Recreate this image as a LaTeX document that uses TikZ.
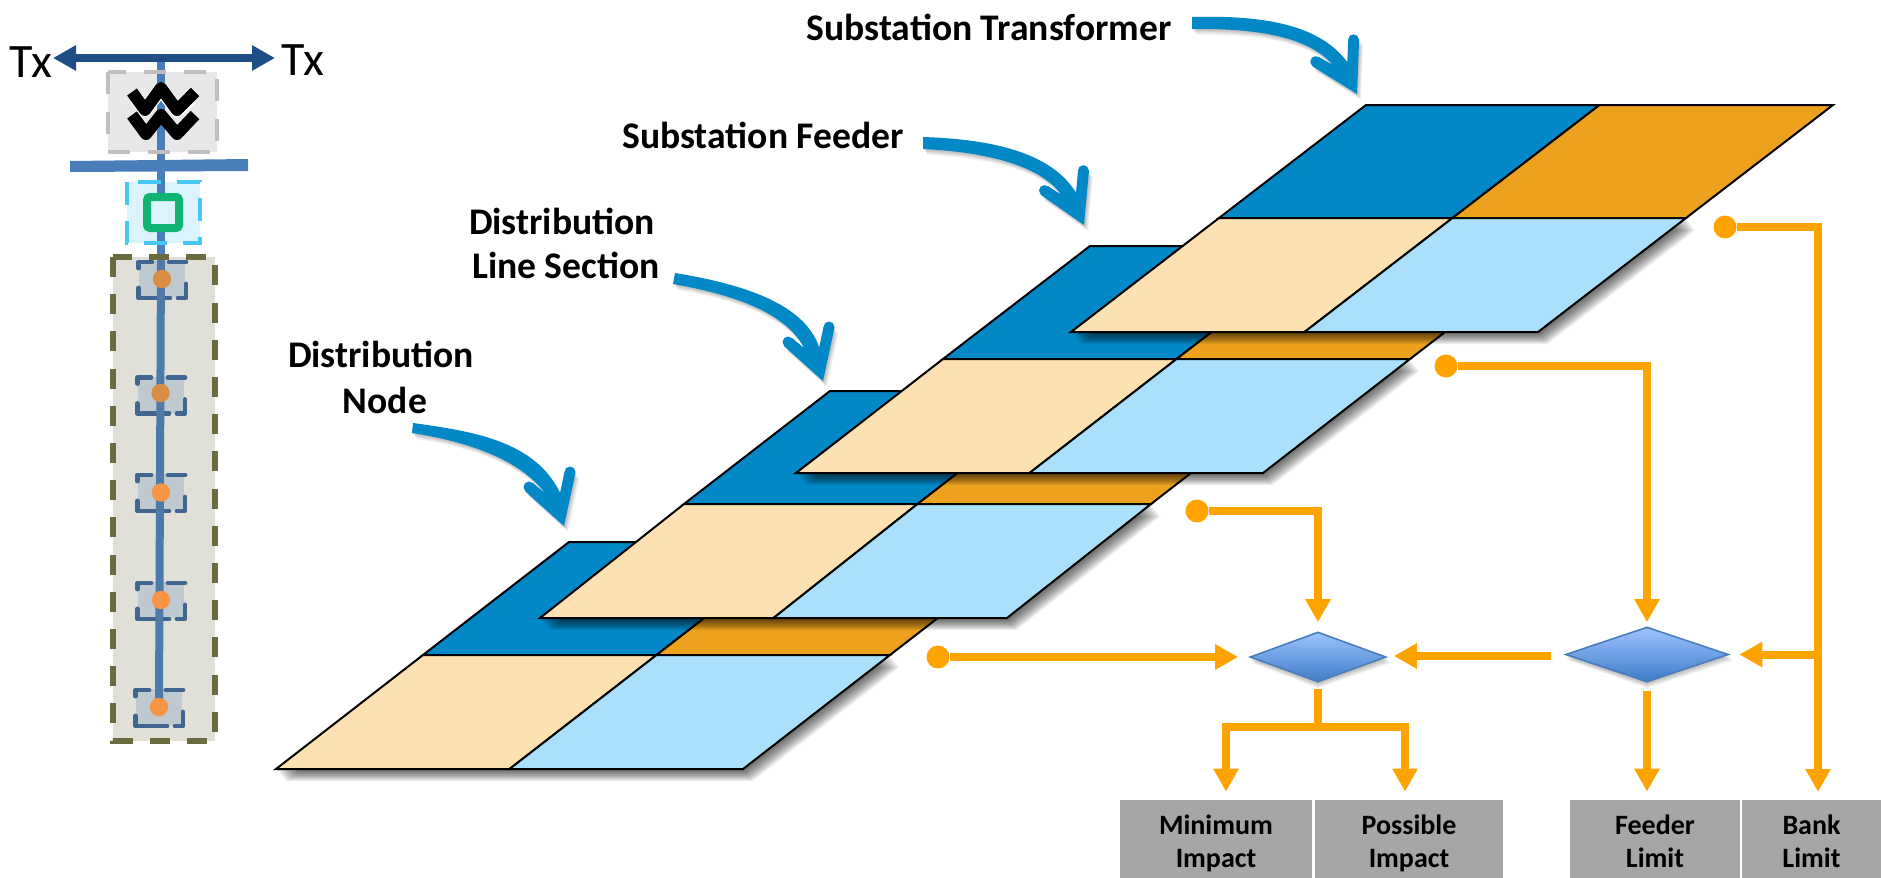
\documentclass[tikz,border=0pt]{standalone}
\usepackage{fontspec}
\setmainfont{Carlito}
\usetikzlibrary{arrows.meta,shapes.geometric,calc}
\definecolor{cblue}{HTML}{0288C7}
\definecolor{corange}{HTML}{EDA21F}
\definecolor{ccream}{HTML}{FDE1B2}
\definecolor{clight}{HTML}{ABE0FC}
\definecolor{flowc}{HTML}{FFA300}
\definecolor{navy}{HTML}{1F4E87}
\definecolor{feedc}{HTML}{4A7EBB}
\definecolor{feedd}{HTML}{4F7AA8}
\definecolor{olive}{HTML}{6B6B40}
\definecolor{slate}{HTML}{3F6590}
\definecolor{grayb}{HTML}{A6A6A6}
\definecolor{greybg}{HTML}{E8E8E8}
\definecolor{greyds}{HTML}{BFBFBF}
\definecolor{skybg}{HTML}{DBF3FC}
\definecolor{skyds}{HTML}{45C8F5}
\definecolor{sandbg}{HTML}{E0E0D8}
\definecolor{nodebg}{HTML}{BFCAD0}
\definecolor{greenc}{HTML}{10B573}
\definecolor{dotdk}{HTML}{D98E45}
\definecolor{dotlt}{HTML}{F79646}
\definecolor{dmdtop}{HTML}{9DC3FF}
\definecolor{dmdbot}{HTML}{3F7CC8}
\tikzset{
  x=0.5pt,y=-0.5pt,
  cell/.style={draw=black,line width=1pt,line join=miter},
  flow/.style={draw=flowc,line width=4pt},
  flowa/.style={flow,-{Triangle[length=11.5pt,width=12pt]}},
  tinydot/.style={circle,fill=flowc,minimum size=11.5pt,inner sep=0pt},
  dmd/.style={diamond,draw=feedc,line width=0.8pt,top color=dmdtop,bottom color=dmdbot,inner sep=0pt},
  graybox/.style={rectangle,fill=grayb,minimum height=39pt,inner sep=0pt,font=\fontsize{14}{16.5}\selectfont\bfseries},
  lbl/.style={font=\fontsize{18.8}{22}\selectfont\bfseries,inner sep=0pt,align=center},
  txl/.style={font=\fontsize{24}{26}\selectfont,inner sep=0pt},
  bracket/.style={draw=slate,line width=2.4pt,line cap=round,line join=round},
}
% layer: top-left x, top y, middle-row x offset, bottom-row x offset
\newcommand\layerdraw[4]{%
  \foreach \s in {1,...,12}{%
    \fill[black,opacity=0.065] ({#1-#3+0.8*\s},{#2+113+\s}) -- ({#1-#3+467+0.8*\s},{#2+113+\s}) -- ({#1-#4+467+0.8*\s},{#2+227+\s}) -- ({#1-#4+0.8*\s},{#2+227+\s}) -- cycle;
  }
  \filldraw[cell,fill=cblue] (#1,#2) -- ({#1+233.5},#2) -- ({#1-#3+233.5},{#2+113}) -- ({#1-#3},{#2+113}) -- cycle;
  \filldraw[cell,fill=corange] ({#1+233.5},#2) -- ({#1+467},#2) -- ({#1-#3+467},{#2+113}) -- ({#1-#3+233.5},{#2+113}) -- cycle;
  \filldraw[cell,fill=ccream] ({#1-#3},{#2+113}) -- ({#1-#3+233.5},{#2+113}) -- ({#1-#4+233.5},{#2+227}) -- ({#1-#4},{#2+227}) -- cycle;
  \filldraw[cell,fill=clight] ({#1-#3+233.5},{#2+113}) -- ({#1-#3+467},{#2+113}) -- ({#1-#4+467},{#2+227}) -- ({#1-#4+233.5},{#2+227}) -- cycle;
}
\newcommand\barrow[8]{%
  \begin{scope}[shift={(#1)},rotate=#2]
    \coordinate (Nr) at (-4,-33);
    \coordinate (Ra) at (0.5,-54);
    \coordinate (Rb) at (11.5,-53);
    \coordinate (Rc) at (6,-54);
    \coordinate (Tp) at (0,0);
    \coordinate (La) at (-39,-35);
    \coordinate (Lb) at (-31,-43);
    \coordinate (Lc) at (-35,-39);
    \coordinate (Nl) at (-19,-33);
  \end{scope}
  \foreach \s/\o in {1/0.05,2/0.05,3/0.05,4/0.05,5/0.04,6/0.04}{%
    \begin{scope}[shift={(\s*0.7,\s)}]
      \fill[black,opacity=\o] (#3) .. controls (#4) and (#5) .. ([shift={(\s*0.7,\s)}]Nr) -- ([shift={(\s*0.7,\s)}]Ra) -- ([shift={(\s*0.7,\s)}]Rb) -- ([shift={(\s*0.7,\s)}]Tp) -- ([shift={(\s*0.7,\s)}]La) -- ([shift={(\s*0.7,\s)}]Lb) -- ([shift={(\s*0.7,\s)}]Nl) .. controls (#6) and (#7) .. (#8) -- cycle;
    \end{scope}
  }
  \fill[cblue] (#3) .. controls (#4) and (#5) .. (Nr) -- (Ra) -- (Rb) -- (Tp) -- (La) -- (Lb) -- (Nl) .. controls (#6) and (#7) .. (#8) -- cycle;
  \fill[cblue] (Rc) circle[radius=2.75pt] (Lc) circle[radius=2.75pt];
}
\newcommand\smallbox[2]{%
  \begin{scope}[shift={(#1,#2)}]
    \fill[fill=nodebg] (-23,-18) rectangle (23,18);
    \draw[bracket] (-23.5,-11) -- (-23.5,-17) -- (-10,-17);
    \draw[bracket] (7,-17) -- (24,-17);
    \draw[bracket] (24,5) -- (24,19) -- (16,19);
    \draw[bracket] (-23.5,9) -- (-23.5,19) -- (8,19);
  \end{scope}
}
\newcommand\twolines[2]{\raisebox{-6.3pt}[0pt][0pt]{\begin{tabular}{@{}c@{}}#1\\#2\end{tabular}}}
\begin{document}
\begin{tikzpicture}
\useasboundingbox (0,0) rectangle (1881,878);
% ---------- left column
\fill[fill=greybg] (108,72) rectangle (217,152);
\fill[fill=skybg] (127,182) rectangle (200,243);
\fill[fill=sandbg] (113,257) rectangle (215,741);
\smallbox{162}{279}
\smallbox{161}{394.5}
\smallbox{161}{492}
\smallbox{161}{600}
\smallbox{159}{707}
\coordinate (ltop) at (161,58);
\coordinate (lmid) at (161,257);
\coordinate (lbot) at (159,707);
\draw[feedc,line width=4pt] (ltop) -- (lmid);
\draw[feedd,line width=4pt] (lmid) -- (lbot);
\draw[greyds,line width=2.4pt,dash pattern=on 11pt off 9pt] (108,72) rectangle (217,152);
\draw[skyds,line width=2.4pt,dash pattern=on 11.5pt off 8pt] (127,182) rectangle (200,243);
\draw[olive,line width=2.6pt,dash pattern=on 10pt off 8.6pt] (113,257) rectangle (215,741);
\fill[feedc] (70,161) -- (248,159) -- (248,171) -- (70,172) -- cycle;
\draw[draw=greenc,fill=skybg,line width=4pt,rounded corners=1.5pt] (147,197) rectangle (179,228);
% transformer symbol
\draw[black,line width=6pt,line join=round] (132,115) -- (146,134) -- (161,115) -- (177,134) -- (195,115);
\draw[white,line width=7pt,line join=round] (136,98) -- (145,110) -- (161,89) -- (177,110) -- (191,98);
\draw[black,line width=6pt,line join=round] (132,92) -- (145,110) -- (161,88) -- (177,110) -- (195,92);
\fill[dotdk] (162,279) circle[radius=4.6pt] (160.5,393) circle[radius=4.6pt];
\fill[dotlt] (161,492.5) circle[radius=4.6pt] (161,600) circle[radius=4.6pt] (159,707) circle[radius=4.6pt];
\coordinate (txa) at (53,58);
\coordinate (txb) at (275,58);
\draw[navy,line width=4pt,{Triangle[length=11.5pt,width=12pt]}-{Triangle[length=11.5pt,width=12pt]}] (txa) -- (txb);
\node[txl,anchor=center] (txleft) at (31,62) {Tx};
\node[txl,anchor=center] (txright) at (303,60) {Tx};
% ---------- layers
\layerdraw{569}{542}{146}{293}
\layerdraw{830}{391}{146}{290}
\layerdraw{1090}{246}{147}{294}
\layerdraw{1366}{105}{147}{295}
% ---------- labels
\node[lbl] (l1) at (989,27) {Substation Transformer};
\node[lbl] (l2) at (763,135) {Substation Feeder};
\node[lbl] (l3a) at (562,221) {Distribution};
\node[lbl] (l3b) at (566,265) {Line Section};
\node[lbl] (l4a) at (381,354) {Distribution};
\node[lbl] (l4b) at (385,400) {Node};
\barrow{1357,94}{10}{1192,17}{1265,15}{1320,25}{1310,38}{1260,28}{1192,29}
\barrow{1084,225}{7}{923,137}{985,139}{1050,150}{1040,165}{985,152}{923,149}
\barrow{823,381}{0}{675,273}{730,282}{805,300}{785,310}{725,293}{673,284}
\barrow{564,526}{0}{413,423}{470,431}{535,440}{520,460}{470,442}{412,433}
% ---------- diamonds shadow
\foreach \s in {1,...,6}{%
  \fill[black,opacity=0.05] ({1249+\s*0.6},{657+\s}) -- (1318,{632+\s}) -- ({1387+\s*0.6},{657+\s}) -- (1318,{682+\s}) -- cycle;
  \fill[black,opacity=0.05] ({1565+\s*0.6},{654.5+\s}) -- (1647,{627+\s}) -- ({1729+\s*0.6},{654.5+\s}) -- (1647,{682+\s}) -- cycle;
}
\node[dmd,minimum width=68pt,minimum height=25pt] (d1) at (1318,657) {};
\node[dmd,minimum width=81.5pt,minimum height=27.5pt] (d2) at (1647,654.5) {};
% ---------- gray boxes
\node[graybox,minimum width=96pt] (mi) at (1216,839) {\twolines{Minimum}{Impact}};
\node[graybox,minimum width=94pt] (pi) at (1409,839) {\twolines{Possible}{Impact}};
\node[graybox,minimum width=85pt] (fl) at (1655,839) {\twolines{Feeder}{Limit}};
\node[graybox,minimum width=69.5pt] (bl) at (1811.5,839) {\twolines{Bank}{Limit}};
% ---------- flow connectors
\node[tinydot] (ndot) at (938,657) {};
\node[tinydot] (sdot) at (1197,511) {};
\node[tinydot] (fdot) at (1446,366) {};
\node[tinydot] (bdot) at (1725,227) {};
\draw[flowa,shorten >=5.5pt] (ndot) -- (d1);
\draw[flowa,shorten >=4.5pt] (sdot) -| (d1);
\draw[flowa,shorten >=2pt] (fdot) -| (d2);
\coordinate (bk) at (1818,792);
\coordinate (j) at (1818,654.5);
\draw[flowa] (bdot) -| (bk);
\draw[flowa,shorten >=5pt] (j) -- (d2);
\coordinate (m) at (1551,656);
\draw[flowa,shorten >=3.5pt] (m) -- (m -| d1.east);
\coordinate (bus) at (1318,727);
\coordinate (busl) at (1226,727);
\coordinate (busr) at (1405,727);
\draw[flow,shorten <=3pt] (d1) -- (bus);
\draw[flow] ([xshift=-2pt]busl) -- ([xshift=2pt]busr);
\draw[flowa,shorten >=4pt] (busl) -- (busl |- mi.north);
\draw[flowa,shorten >=4pt] (busr) -- (busr |- pi.north);
\draw[flowa,shorten <=4pt,shorten >=4pt] (d2) -- (d2 |- fl.north);
\end{tikzpicture}
\end{document}
